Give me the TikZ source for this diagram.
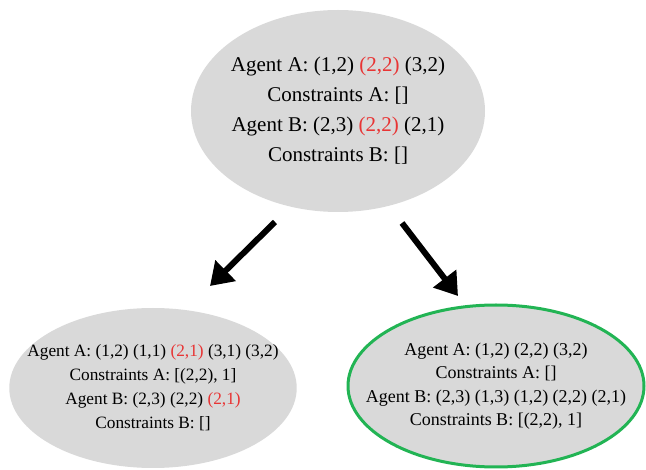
\documentclass[tikz,border=0pt]{standalone}
\usepackage{fontspec}
\setmainfont{Liberation Serif}
\usetikzlibrary{shapes.geometric,arrows.meta}
\definecolor{ellgray}{RGB}{217,217,217}
\definecolor{hlred}{RGB}{232,52,52}
\definecolor{okgreen}{RGB}{34,180,84}
\tikzset{
  state/.style={ellipse, fill=ellgray, draw=none, align=center, inner ysep=0pt},
  bigtxt/.style={font=\fontsize{21}{30}\selectfont},
  smalltxt/.style={font=\fontsize{17.3}{24}\selectfont},
  goaltxt/.style={font=\fontsize{18}{23.5}\selectfont},
  goal/.style={draw=okgreen, line width=3pt},
  branch/.style={line width=6pt, -{Triangle[length=22pt,width=28pt]}}
}
\newcommand{\hl}[1]{\textcolor{hlred}{#1}}
\begin{document}
\begin{tikzpicture}[x=1pt,y=-1pt]
\useasboundingbox (0,0) rectangle (646,470);
\node[state, bigtxt, inner xsep=-5pt, minimum width=294pt, minimum height=202pt] (root) at (338,111)
  {Agent A: (1,2) \hl{(2,2)} (3,2)\\Constraints A: []\\Agent B: (2,3) \hl{(2,2)} (2,1)\\Constraints B: []};
\node[state, smalltxt, inner xsep=-24pt, minimum width=286pt, minimum height=160pt] (left) at (153,388)
  {Agent A: (1,2) (1,1) \hl{(2,1)} (3,1) (3,2)\\Constraints A: [(2,2), 1]\\Agent B: (2,3) (2,2) \hl{(2,1)}\\Constraints B: []};
\node[state, goal, goaltxt, inner xsep=-28pt, minimum width=296pt, minimum height=162pt] (right) at (496,386)
  {Agent A: (1,2) (2,2) (3,2)\\Constraints A: []\\Agent B: (2,3) (1,3) (1,2) (2,2) (2,1)\\Constraints B: [(2,2), 1]};
\coordinate (l1) at (275,222);
\coordinate (l2) at (210,286);
\coordinate (r1) at (402,223);
\coordinate (r2) at (458,296);
\draw[branch] (l1) -- (l2);
\draw[branch] (r1) -- (r2);
\end{tikzpicture}
\end{document}
